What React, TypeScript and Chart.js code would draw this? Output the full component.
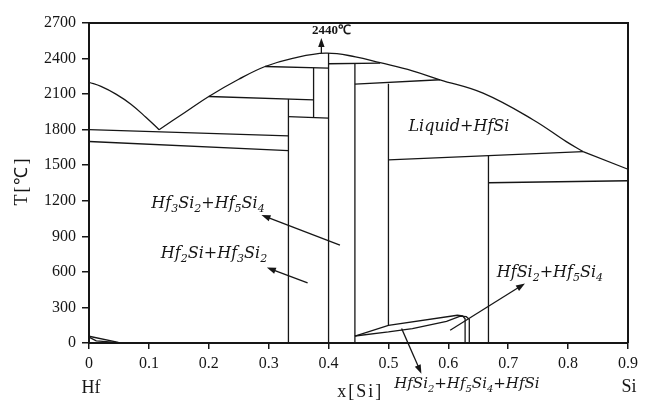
import React, { useEffect, useRef } from "react";
import { Chart, registerables } from "chart.js";
Chart.register(...registerables);

type P = [number, number];

// tick values
const xTicks = [0, 0.1, 0.2, 0.3, 0.4, 0.5, 0.6, 0.7, 0.8, 0.9];
const yTicks = [0, 300, 600, 900, 1200, 1500, 1800, 2100, 2400, 2700];

// liquidus curves (x[Si], T in °C)
const leftLiquidus: P[] = [[0, 2200], [0.02, 2165], [0.045, 2100], [0.07, 2015], [0.095, 1905], [0.117, 1800]];
const mainLiquidus: P[] = [[0.117, 1800], [0.16, 1945], [0.2, 2080], [0.25, 2225], [0.294, 2333], [0.34, 2402], [0.395, 2446], [0.445, 2415], [0.486, 2365], [0.54, 2296], [0.586, 2221], [0.658, 2108], [0.742, 1882], [0.797, 1699], [0.825, 1615]];
const siLiquidus: P[] = [[0.825, 1615], [0.9, 1466]];

// horizontal (isotherm-like) boundaries
const iso1800: P[] = [[0, 1800], [0.333, 1747]];
const iso1700: P[] = [[0, 1700], [0.333, 1623]];
const iso2080: P[] = [[0.2, 2080], [0.375, 2052]];
const iso2330: P[] = [[0.294, 2333], [0.4, 2320]];
const iso1900: P[] = [[0.333, 1910], [0.4, 1897]];
const iso2350: P[] = [[0.4, 2356], [0.486, 2362]];
const iso2190: P[] = [[0.444, 2185], [0.586, 2221]];
const iso1550: P[] = [[0.5, 1545], [0.825, 1615]];
const iso1350: P[] = [[0.667, 1352], [0.9, 1369]];

// compound lines
const vHf2Si: P[] = [[0.333, 2059], [0.333, 0]];
const vHf5Si3: P[] = [[0.375, 2323], [0.375, 1902]];
const vHf3Si2: P[] = [[0.4, 2446], [0.4, 0]];
const vHf5Si4: P[] = [[0.444, 2358], [0.444, 0]];
const vHfSi: P[] = [[0.5, 2188], [0.5, 148]];
const vHfSi2: P[] = [[0.667, 1580], [0.667, 0]];

// low temperature features
const lensUpper: P[] = [[0.444, 59], [0.5, 148], [0.615, 234], [0.624, 228], [0.628, 205], [0.628, 0]];
const lensLower: P[] = [[0.444, 59], [0.5, 93], [0.54, 122], [0.597, 183], [0.62, 226], [0.63, 222], [0.635, 200], [0.635, 0]];
const hfCornerA: P[] = [[0, 57], [0.049, 5]];
const hfCornerB: P[] = [[0, 50], [0.012, 18], [0.045, 5]];

const curved = [leftLiquidus, mainLiquidus];
const straight = [siLiquidus, iso1800, iso1700, iso2080, iso2330, iso1900, iso2350, iso2190, iso1550, iso1350,
  vHf2Si, vHf5Si3, vHf3Si2, vHf5Si4, vHfSi, vHfSi2, lensUpper, lensLower, hfCornerA, hfCornerB];

// annotations
const arrowFrom: P[] = [[0.388, 2446], [0.419, 826], [0.365, 507], [0.603, 107], [0.522, 122]];
const arrowTo: P[] = [[0.388, 2573], [0.288, 1079], [0.297, 637], [0.728, 502], [0.555, -259]];
const labelTexts = ["Liquid+HfSi", "Hf3Si2+Hf5Si4", "Hf2Si+Hf3Si2", "HfSi2+Hf5Si4", "HfSi2+Hf5Si4+HfSi"];
const labelPos: P[] = [[0.6177, 1840], [0.1987, 1188], [0.2087, 767], [0.7696, 606], [0.631, -332]];
const peakLabel = "2440℃";
const peakLabelPos: P[] = [[0.405, 2639]];

const INK = "#161616";

function drawRich(ctx: CanvasRenderingContext2D, text: string, cx: number, cy: number, size: number) {
  const parts: { t: string; sub: boolean }[] = [];
  for (const ch of text) {
    const sub = /[0-9]/.test(ch);
    const last = parts[parts.length - 1];
    if (last && last.sub === sub) last.t += ch;
    else parts.push({ t: ch, sub });
  }
  const main = `italic ${size}px 'DejaVu Serif'`;
  const small = `italic ${Math.round(size * 0.66)}px 'DejaVu Serif'`;
  let total = 0;
  const widths = parts.map((p) => {
    ctx.font = p.sub ? small : main;
    const w = ctx.measureText(p.t).width;
    total += w;
    return w;
  });
  let x = cx - total / 2;
  ctx.textAlign = "left";
  ctx.textBaseline = "alphabetic";
  const base = cy + size * 0.36;
  parts.forEach((p, i) => {
    ctx.font = p.sub ? small : main;
    ctx.fillText(p.t, x, p.sub ? base + size * 0.28 : base);
    x += widths[i];
  });
}

function drawArrow(ctx: CanvasRenderingContext2D, x1: number, y1: number, x2: number, y2: number) {
  const ang = Math.atan2(y2 - y1, x2 - x1);
  const hl = 9, hw = 3.2;
  ctx.beginPath();
  ctx.moveTo(x1, y1);
  ctx.lineTo(x2 - Math.cos(ang) * hl * 0.8, y2 - Math.sin(ang) * hl * 0.8);
  ctx.stroke();
  ctx.beginPath();
  ctx.moveTo(x2, y2);
  ctx.lineTo(x2 - Math.cos(ang) * hl + Math.sin(ang) * hw, y2 - Math.sin(ang) * hl - Math.cos(ang) * hw);
  ctx.lineTo(x2 - Math.cos(ang) * hl - Math.sin(ang) * hw, y2 - Math.sin(ang) * hl + Math.cos(ang) * hw);
  ctx.closePath();
  ctx.fill();
}

const overlay = {
  id: "overlay",
  afterDraw(chart: any) {
    const { ctx, chartArea: ca } = chart;
    const xs = chart.scales.x, ys = chart.scales.y;
    ctx.save();
    ctx.strokeStyle = INK;
    ctx.fillStyle = INK;
    ctx.lineWidth = 2;
    ctx.beginPath();
    ctx.moveTo(ca.left, ca.top);
    ctx.lineTo(ca.right, ca.top);
    ctx.lineTo(ca.right, ca.bottom);
    ctx.stroke();

    ctx.lineWidth = 1.3;
    arrowFrom.forEach((f, i) => {
      const t = arrowTo[i];
      drawArrow(ctx, xs.getPixelForValue(f[0]), ys.getPixelForValue(f[1]), xs.getPixelForValue(t[0]), ys.getPixelForValue(t[1]));
    });

    labelTexts.forEach((t, i) => {
      const p = labelPos[i];
      drawRich(ctx, t, xs.getPixelForValue(p[0]), ys.getPixelForValue(p[1]), i === 4 ? 15 : 16);
    });

    ctx.font = "bold 13px 'Liberation Serif'";
    ctx.textAlign = "center";
    ctx.textBaseline = "middle";
    ctx.fillText(peakLabel, xs.getPixelForValue(peakLabelPos[0][0]), ys.getPixelForValue(peakLabelPos[0][1]));

    ctx.font = "18px 'Liberation Serif'";
    ctx.fillText("Hf", ca.left + 2, ca.bottom + 45);
    ctx.fillText("Si", ca.right + 1, ca.bottom + 44);
    (ctx as any).letterSpacing = "2px";
    ctx.fillText("x[Si]", xs.getPixelForValue(0.453), ca.bottom + 49);
    ctx.save();
    ctx.translate(22, 181);
    ctx.rotate(-Math.PI / 2);
    ctx.fillText("T[℃]", 0, 0);
    ctx.restore();
    ctx.restore();
  },
};

export default function App() {
  const ref = useRef<HTMLCanvasElement>(null);
  useEffect(() => {
    if (!ref.current) return;
    const mk = (pts: P[], smooth: boolean) => ({
      data: pts.map(([x, y]) => ({ x, y })),
      showLine: true,
      pointRadius: 0,
      borderColor: INK,
      borderWidth: 1.3,
      tension: smooth ? 0.4 : 0,
      clip: 4,
    });
    const datasets = [...curved.map((c) => mk(c, true)), ...straight.map((s) => mk(s, false))];
    const tickFont = { family: "'Liberation Serif'", size: 16 };
    const chart = new Chart(ref.current, {
      type: "scatter",
      data: { datasets },
      options: {
        animation: false,
        responsive: false,
        maintainAspectRatio: false,
        layout: { padding: { top: 23, right: 20, left: 0, bottom: 0 } },
        plugins: { legend: { display: false }, tooltip: { enabled: false } },
        scales: {
          x: {
            type: "linear",
            min: 0,
            max: 0.9,
            afterFit: (s: any) => { s.height = 58; },
            afterBuildTicks: (s: any) => { s.ticks = xTicks.map((v) => ({ value: v })); },
            ticks: {
              font: tickFont,
              color: INK,
              padding: 5,
              maxRotation: 0,
              autoSkip: false,
              callback: (v: any) => (Number(v) === 0 ? "0" : Number(v).toFixed(1)),
            },
            grid: { drawOnChartArea: false, drawTicks: true, tickLength: 6, color: INK, lineWidth: 1.5 },
            border: { display: true, color: INK, width: 2 },
          },
          y: {
            type: "linear",
            min: 0,
            max: 2700,
            afterFit: (s: any) => { s.width = 89; },
            afterBuildTicks: (s: any) => { s.ticks = yTicks.map((v) => ({ value: v })); },
            ticks: { font: tickFont, color: INK, padding: 6, autoSkip: false, callback: (v: any) => String(v) },
            grid: { drawOnChartArea: false, drawTicks: true, tickLength: 7, color: INK, lineWidth: 1.5 },
            border: { display: true, color: INK, width: 2 },
          },
        },
      },
      plugins: [overlay],
    });
    return () => chart.destroy();
  }, []);
  return (
    <div style={{ position: "fixed", left: 0, top: 0, width: 648, height: 401, background: "#fff" }}>
      <canvas ref={ref} width={648} height={401} style={{ display: "block" }} />
    </div>
  );
}
